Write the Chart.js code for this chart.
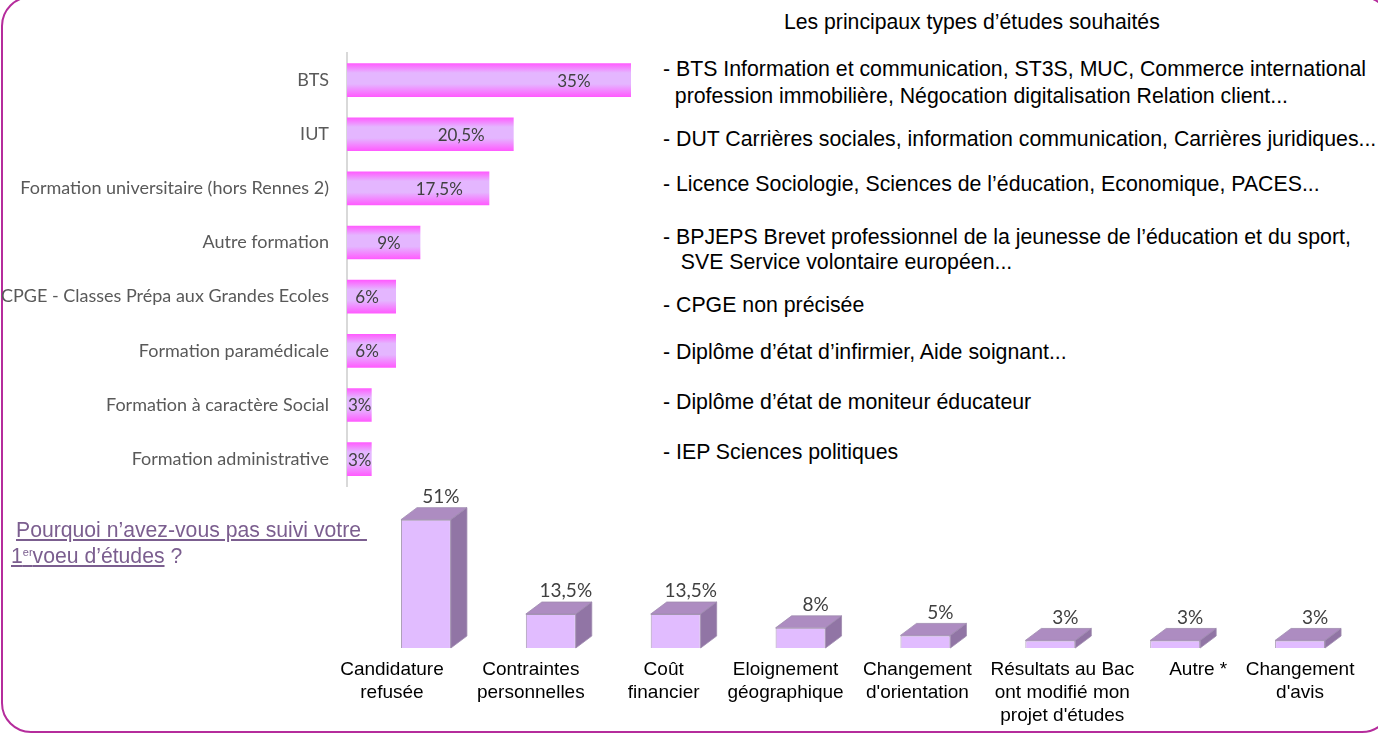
<!DOCTYPE html>
<html><head><meta charset="utf-8">
<script src="https://cdn.jsdelivr.net/npm/chart.js@4.4.1/dist/chart.umd.min.js"></script>
<style>
html,body{margin:0;padding:0;background:#fff;width:1378px;height:733px;overflow:hidden;position:relative;font-family:"Liberation Sans",Arial,sans-serif;}
#frame{position:absolute;left:1px;top:-4px;width:1391px;height:737px;border:2.5px solid #B52C9C;border-radius:30px;box-sizing:border-box;}
#c1{position:absolute;left:0;top:0;}
#c2{position:absolute;left:0;top:470px;}
.t{position:absolute;white-space:pre;color:#000;font-size:21.3px;line-height:24px;}
.q{position:absolute;white-space:nowrap;color:#7B5E8F;font-size:21.2px;line-height:24px;}
.q u{text-decoration-color:#7B5E8F;}
sup{font-size:11px;vertical-align:7px;line-height:0;}
</style></head><body>
<div id="frame"></div>
<canvas id="c1" width="631" height="515" style="width:631px;height:515px"></canvas>
<canvas id="c2" width="1378" height="263" style="width:1378px;height:263px"></canvas>
<div id="txt"></div>
<div class="q" style="left:16px;top:518px;"><u>Pourquoi n’avez-vous pas suivi votre&nbsp;</u></div>
<div class="q" style="left:11px;top:544px;"><u>1<sup>er</sup></u><u>voeu d’études</u> ?</div>
<script>
// ---- Data ----
const topCategories = [
  "BTS",
  "IUT",
  "Formation universitaire (hors Rennes 2)",
  "Autre formation",
  "CPGE - Classes Prépa aux Grandes Ecoles",
  "Formation paramédicale",
  "Formation à caractère Social",
  "Formation administrative"
];
const topValues = [35, 20.5, 17.5, 9, 6, 6, 3, 3];

const bottomCategories = [
  ["Candidature", "refusée"],
  ["Contraintes", "personnelles"],
  ["Coût", "financier"],
  ["Eloignement", "géographique"],
  ["Changement", "d'orientation"],
  ["Résultats au Bac", "ont modifié mon", "projet d'études"],
  ["Autre *"],
  ["Changement", "d'avis"]
];
const bottomValues = [51, 13.5, 13.5, 8, 5, 3, 3, 3];

const listTitle = "Les principaux types d’études souhaités";
const listLines = [
  "- BTS Information et communication, ST3S, MUC, Commerce international",
  "  profession immobilière, Négocation digitalisation Relation client...",
  "- DUT Carrières sociales, information communication, Carrières juridiques...",
  "- Licence Sociologie, Sciences de l’éducation, Economique, PACES...",
  "- BPJEPS Brevet professionnel de la jeunesse de l’éducation et du sport,",
  "   SVE Service volontaire européen...",
  "- CPGE non précisée",
  "- Diplôme d’état d’infirmier, Aide soignant...",
  "- Diplôme d’état de moniteur éducateur",
  "- IEP Sciences politiques"
];
const listY = [69, 96, 139, 184, 237, 262, 305, 352, 402, 452];

// horizontal shift of each bottom category label (text layout only, perspective look)
const bottomLabelShift = [-34, -20, -12, -15, -8, 12, 23, 0];

// ---- Text blocks ----
const txt = document.getElementById('txt');
function addText(s, x, yc, size) {
  const d = document.createElement('div');
  d.className = 't';
  d.style.left = x + 'px';
  d.style.top = (yc - 12) + 'px';
  if (size) d.style.fontSize = size + 'px';
  d.textContent = s;
  txt.appendChild(d);
}
addText(listTitle, 784, 22, 21.2);
listLines.forEach((s, i) => addText(s, 663, listY[i]));

const fmt = v => String(v).replace('.', ',') + '%';

// ---- Top chart ----
const gradFn = (ctx) => {
  const chart = ctx.chart;
  const ys = chart.scales && chart.scales.y;
  if (!ys || ctx.dataIndex === undefined) return '#E4B6FF';
  const yc = ys.getPixelForValue(ctx.dataIndex);
  if (!isFinite(yc)) return '#E4B6FF';
  const g = chart.ctx.createLinearGradient(0, yc - 16.5, 0, yc + 16.5);
  g.addColorStop(0, '#FF5CFF');
  g.addColorStop(0.28, '#E4B6FF');
  g.addColorStop(0.62, '#E4B6FF');
  g.addColorStop(1, '#FF5CFF');
  return g;
};
const topLabelsPlugin = {
  id: 'topLabels',
  afterDatasetsDraw(chart) {
    const ctx = chart.ctx;
    const meta = chart.getDatasetMeta(0);
    ctx.save();
    ctx.font = '17px Lato, "Open Sans", sans-serif';
    ctx.fillStyle = '#404040';
    ctx.textAlign = 'center';
    ctx.textBaseline = 'middle';
    meta.data.forEach((el, i) => {
      const s = fmt(topValues[i]);
      const tw = ctx.measureText(s).width;
      const w = el.x - el.base;
      let cx = el.x - (tw / 2 + 0.1 * w + 12);
      cx = Math.max(cx, el.base + tw / 2 + 1);
      ctx.fillText(s, cx, el.y + 1);
    });
    ctx.restore();
  }
};
new Chart(document.getElementById('c1'), {
  type: 'bar',
  data: { labels: topCategories, datasets: [{ data: topValues, backgroundColor: gradFn, borderWidth: 0, barThickness: 33 }] },
  options: {
    indexAxis: 'y', responsive: false, animation: false,
    layout: { padding: { top: 53, bottom: 0, left: 0, right: 0 } },
    plugins: { legend: { display: false }, tooltip: { enabled: false } },
    scales: {
      x: { display: false, min: 0, max: 35 },
      y: {
        afterFit(s) { s.width = 347; },
        grid: { display: false, drawTicks: false },
        border: { display: true, color: '#D9D9D9', width: 2 },
        ticks: { padding: 18, color: '#595959', font: { family: 'Lato', size: 18 } }
      }
    }
  },
  plugins: [topLabelsPlugin]
});

// ---- Bottom chart (3D look) ----
const DX = 16, DY = 12;
const threeD = {
  id: 'threeD',
  afterDatasetsDraw(chart) {
    const ctx = chart.ctx;
    const meta = chart.getDatasetMeta(0);
    ctx.save();
    meta.data.forEach((el, i) => {
      const l = el.x - el.width / 2, r = el.x + el.width / 2, t = el.y, b = el.base;
      ctx.beginPath();
      ctx.moveTo(l, t); ctx.lineTo(r, t); ctx.lineTo(r + DX, t - DY); ctx.lineTo(l + DX, t - DY); ctx.closePath();
      ctx.fillStyle = '#AD8CC1'; ctx.fill();
      ctx.strokeStyle = '#A08CB0'; ctx.lineWidth = 0.8; ctx.stroke();
      ctx.beginPath();
      ctx.moveTo(r, t); ctx.lineTo(r + DX, t - DY); ctx.lineTo(r + DX, b - DY); ctx.lineTo(r, b); ctx.closePath();
      ctx.fillStyle = '#9175A5'; ctx.fill();
      ctx.stroke();
      ctx.font = '19px Lato, "Open Sans", sans-serif';
      ctx.fillStyle = '#404040';
      ctx.textAlign = 'center';
      ctx.textBaseline = 'middle';
      ctx.fillText(fmt(bottomValues[i]), el.x + DX - 1, t - DY - 11);
    });
    // category labels under the bars
    const xs = chart.scales.x;
    ctx.font = '19px "Liberation Sans", Arial, sans-serif';
    ctx.fillStyle = '#000';
    ctx.textAlign = 'center';
    ctx.textBaseline = 'middle';
    bottomCategories.forEach((lines, i) => {
      const cx = xs.getPixelForValue(i) + bottomLabelShift[i];
      lines.forEach((s, k) => ctx.fillText(s, cx, xs.top + 22 + k * 23));
    });
    ctx.restore();
  }
};
new Chart(document.getElementById('c2'), {
  type: 'bar',
  data: { labels: bottomCategories, datasets: [{ data: bottomValues, backgroundColor: '#E1BCFF', borderColor: '#A99CB4', borderWidth: 1, categoryPercentage: 1, barPercentage: 0.4 }] },
  options: {
    responsive: false, animation: false,
    layout: { padding: { top: 27, left: 363.5, right: 15.5, bottom: 0 } },
    plugins: { legend: { display: false }, tooltip: { enabled: false } },
    scales: {
      y: { display: false, min: 0, max: 60 },
      x: {
        afterFit(s) { s.height = 85; },
        grid: { display: false, drawTicks: false },
        border: { display: false },
        ticks: { display: false }
      }
    }
  },
  plugins: [threeD]
});
</script>
</body></html>
